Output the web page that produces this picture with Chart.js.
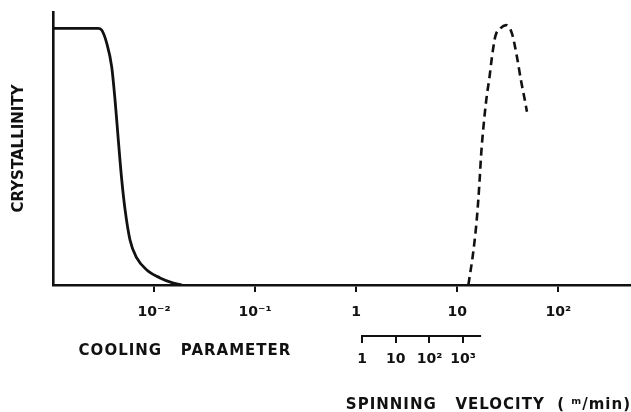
<!DOCTYPE html>
<html>
<head>
<meta charset="utf-8">
<script src="https://cdn.jsdelivr.net/npm/chart.js@4.4.0/dist/chart.umd.min.js"></script>
<style>
html,body{margin:0;padding:0;background:#fff;}
canvas{display:block;}
</style>
</head>
<body>
<canvas id="crystChart" width="631" height="412"></canvas>
<script>
// cooling parameter axis
const xTicks=[1e-2,1e-1,1,10,100];
const xTickLabels=['10⁻²','10⁻¹','1','10','10²'];
// compressed spinning velocity scale under the axis
const velTicks=[1,10,100,1000];
const velTickLabels=['1','10','10²','10³'];
const velBar=[1,3400];

// crystallinity vs cooling parameter (solid)
const coolX=[0.001,0.00279,0.00303,0.0034,0.00381,0.00411,0.00443,0.00479,0.00517,0.00578,0.00674,0.00847,0.01146,0.01552,0.0188];
const coolY=[94,94,93.4,88.6,79.9,67.8,53.1,38.5,27.5,16.5,9.9,5.5,2.6,0.7,0];
// crystallinity vs spinning velocity (dashed)
const spinX=[12.9,14.5,15.7,16.6,17.3,18.2,19.4,20.9,22.1,23.8,26.7,30.5,34.8,39.0,42.7,46.0,49.0];
const spinY=[0,12.8,25.0,37.4,48.4,58.0,67.8,76.3,83.6,91.0,94.0,95.2,92.2,83.6,75.1,69.0,63.5];

const INK='#111';
const FONT='"DejaVu Sans", sans-serif';
const tickFont={family:FONT,size:14,weight:'bold'};

// axis captions and the short base line of the velocity scale
const axisNotes={
  id:'axisNotes',
  afterDraw(chart){
    const {ctx,chartArea:a,scales:{x2}}=chart;
    ctx.save();
    ctx.strokeStyle=INK; ctx.lineWidth=2;
    ctx.beginPath();
    ctx.moveTo(x2.getPixelForValue(velBar[0])-1,x2.top+1);
    ctx.lineTo(x2.getPixelForValue(velBar[1]),x2.top+1);
    ctx.stroke();
    ctx.fillStyle=INK;
    ctx.font='bold 15px '+FONT;
    ctx.letterSpacing='1px';
    ctx.textBaseline='alphabetic';
    ctx.textAlign='center';
    ctx.fillText('COOLING   PARAMETER',a.left+132,355);
    ctx.textAlign='right';
    ctx.fillText('SPINNING   VELOCITY  ( ᵐ/min)',chart.width,409);
    ctx.restore();
  }
};

new Chart(document.getElementById('crystChart'),{
  type:'line',
  data:{datasets:[
    {label:'Cooling parameter',data:coolX.map((x,i)=>({x,y:coolY[i]})),borderColor:INK,borderWidth:2.8,pointRadius:0,cubicInterpolationMode:'monotone'},
    {label:'Spinning velocity',data:spinX.map((x,i)=>({x,y:spinY[i]})),borderColor:INK,borderWidth:2.6,borderDash:[8,5],pointRadius:0,cubicInterpolationMode:'monotone'}
  ]},
  options:{
    responsive:false,animation:false,
    layout:{padding:{top:12,right:1,left:0,bottom:0}},
    plugins:{legend:{display:false},tooltip:{enabled:false}},
    scales:{
      x:{type:'logarithmic',min:1e-3,max:10**2.71,
        afterBuildTicks:s=>{s.ticks=xTicks.map(v=>({value:v}));},
        afterFit:s=>{s.height=50;},
        border:{color:INK,width:2.6},
        grid:{drawOnChartArea:false,color:INK,lineWidth:2,tickLength:7},
        ticks:{autoSkip:false,maxRotation:0,padding:12,color:INK,font:tickFont,callback:(v,i)=>xTickLabels[i]}},
      x2:{type:'logarithmic',position:'bottom',weight:1,min:10**-9.17,max:10**7.95,
        afterBuildTicks:s=>{s.ticks=velTicks.map(v=>({value:v}));},
        afterFit:s=>{s.height=77;},
        border:{display:false},
        grid:{drawOnChartArea:false,color:INK,lineWidth:2,tickLength:8},
        ticks:{autoSkip:false,maxRotation:0,padding:8,color:INK,font:tickFont,callback:(v,i)=>velTickLabels[i]}},
      y:{min:0,max:100,
        afterFit:s=>{s.width=53;},
        border:{color:INK,width:2.6},
        grid:{display:false},
        ticks:{display:false},
        title:{display:true,text:'CRYSTALLINITY',color:INK,font:{family:FONT,size:15,weight:'bold'},padding:{top:10}}}
    }
  },
  plugins:[axisNotes]
});
</script>
</body>
</html>
